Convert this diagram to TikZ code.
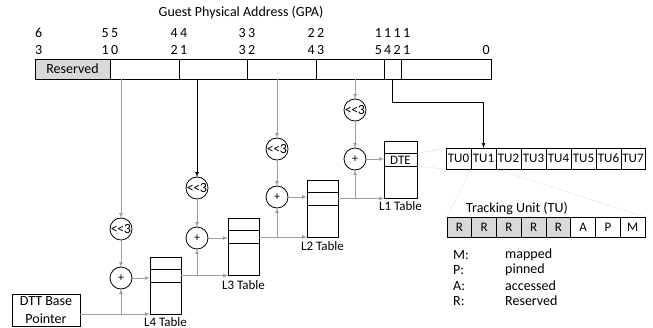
\documentclass[tikz,border=0pt]{standalone}
\usepackage{fontspec}
\setmainfont{Carlito}
\usetikzlibrary{positioning}
\definecolor{fillgray}{gray}{0.85}
\definecolor{wiregray}{gray}{0.62}
\tikzset{field/.style={draw,line width=0.8pt,minimum height=20pt,inner sep=0pt,outer sep=0pt,font=\fontsize{14}{16}\selectfont},
bitlbl/.style={inner sep=0pt,align=center,font=\fontsize{14}{17}\selectfont},
op/.style={draw,circle,line width=0.8pt,minimum size=22pt,inner sep=0pt,outer sep=0pt},
tbl/.style={draw,line width=0.8pt,minimum width=31pt,minimum height=57pt,inner sep=0pt,outer sep=0pt},
entry/.style={draw,line width=1pt,minimum width=31pt,minimum height=13pt,inner sep=0pt,outer sep=0pt,font=\fontsize{13}{13}\selectfont},
tbllbl/.style={inner sep=0pt,font=\fontsize{13}{15}\selectfont},
tucell/.style={draw,line width=0.8pt,minimum width=25pt,minimum height=21pt,inner sep=0pt,outer sep=0pt,font=\fontsize{13}{15}\selectfont},
bitcell/.style={draw,line width=0.8pt,minimum width=24.75pt,minimum height=20pt,inner sep=0pt,outer sep=0pt,font=\fontsize{13}{15}\selectfont},
legend/.style={inner sep=0pt,anchor=west,font=\fontsize{14}{16}\selectfont},
wire/.style={wiregray,line width=0.7pt}
}

\begin{document}
\begin{tikzpicture}[x=1pt,y=-1pt]
  \path[use as bounding box] (0,0) rectangle (653,327);
  \clip (0,0) rectangle (653,327);

  % GPA fields
  \node[font=\fontsize{14}{16}\selectfont] (gpa) at (241,13) {Guest Physical Address (GPA)};
  \node[field,fill=fillgray,minimum width=75pt,anchor=west] (rsv) at (35,69) {Reserved};
  \node[field,minimum width=69pt,right=0pt of rsv] (f1) {};
  \node[field,minimum width=68pt,right=0pt of f1] (f2) {};
  \node[field,minimum width=69pt,right=0pt of f2] (f3) {};
  \node[field,minimum width=68pt,right=0pt of f3] (f4) {};
  \node[field,minimum width=17pt,right=0pt of f4] (f5) {};
  \node[field,minimum width=90pt,right=0pt of f5] (f6) {};

  % Bit numbers
  \node[bitlbl,align=left,above right=4pt and 0pt of rsv.north west] (b63) {6\\3};
  \node[bitlbl,above=4pt of rsv.north east] (b51) {5\,5\\1\,0};
  \node[bitlbl,above=4pt of f1.north east] (b42) {4\,4\\2\,1};
  \node[bitlbl,above=4pt of f2.north east] (b33) {3\,3\\3\,2};
  \node[bitlbl,above=4pt of f3.north east] (b24) {2\,2\\4\,3};
  \node[bitlbl,above=4pt of f5.north] (b15) {1\,1\,1\,1\\5\,4\,2\,1};
  \node[bitlbl,above left=4pt and 1pt of f6.north east] (b0) {0};

  % Shifters and adders
  \node[op,font=\fontsize{14}{14}\selectfont] (sh4) at (121,229) {<\kern-0.5pt<\kern-0.5pt3};
  \node[op,font=\fontsize{14}{14}\selectfont] (sh3) at (197,188) {<\kern-0.5pt<\kern-0.5pt3};
  \node[op,font=\fontsize{14}{14}\selectfont] (sh2) at (277,149) {<\kern-0.5pt<\kern-0.5pt3};
  \node[op,font=\fontsize{14}{14}\selectfont] (sh1) at (355,110) {<\kern-0.5pt<\kern-0.5pt3};
  \node[op,font=\fontsize{12}{12}\selectfont] (add4) at (121,278) {+};
  \node[op,font=\fontsize{12}{12}\selectfont] (add3) at (197,238) {+};
  \node[op,font=\fontsize{12}{12}\selectfont] (add2) at (277,197) {+};
  \node[op,font=\fontsize{12}{12}\selectfont] (add1) at (355,159) {+};

  % Tables
  \node[tbl] (l4) at (165.5,285.5) {};
  \node[entry,below=12pt of l4.north] (l4e) {};
  \node[tbl] (l3) at (243.5,247) {};
  \node[entry,below=12pt of l3.north] (l3e) {};
  \node[tbl] (l2) at (322.5,208.5) {};
  \node[entry,below=12pt of l2.north] (l2e) {};
  \node[tbl,minimum width=33pt] (l1) at (400.5,170) {};
  \node[entry,minimum width=33pt,below=12pt of l1.north] (l1e) {DTE};
  \node[tbllbl,below=3pt of l4] (l4lbl) {L4 Table};
  \node[tbllbl,below=5pt of l3] (l3lbl) {L3 Table};
  \node[tbllbl,below=4pt of l2] (l2lbl) {L2 Table};
  \node[tbllbl,below=3pt of l1] (l1lbl) {L1 Table};

  \node[draw,line width=0.8pt,minimum width=68pt,minimum height=32pt,inner sep=0pt,align=center,font=\fontsize{14}{18}\selectfont] (dtt) at (46,310) {DTT Base\\Pointer};

  % Tracking units
  \node[tucell,anchor=west] (tu0) at (446,158.5) {TU0};
  \node[tucell,right=0pt of tu0] (tu1) {TU1};
  \node[tucell,right=0pt of tu1] (tu2) {TU2};
  \node[tucell,right=0pt of tu2] (tu3) {TU3};
  \node[tucell,right=0pt of tu3] (tu4) {TU4};
  \node[tucell,right=0pt of tu4] (tu5) {TU5};
  \node[tucell,right=0pt of tu5] (tu6) {TU6};
  \node[tucell,minimum width=24pt,right=0pt of tu6] (tu7) {TU7};

  \node[font=\fontsize{14}{16}\selectfont,inner sep=0pt] (tutitle) at (517,209) {Tracking Unit (TU)};
  \node[bitcell,fill=fillgray,anchor=west] (u7) at (447,227) {R};
  \node[bitcell,fill=fillgray,right=0pt of u7] (u6) {R};
  \node[bitcell,fill=fillgray,right=0pt of u6] (u5) {R};
  \node[bitcell,fill=fillgray,right=0pt of u5] (u4) {R};
  \node[bitcell,fill=fillgray,right=0pt of u4] (u3) {R};
  \node[bitcell,right=0pt of u3] (u2) {A};
  \node[bitcell,right=0pt of u2] (u1) {P};
  \node[bitcell,right=0pt of u1] (u0) {M};

  % Legend
  \node[legend] (km) at (453,255) {M:};
  \node[legend] (vm) at (505,255) {mapped};
  \node[legend] (kp) at (453,270) {P:};
  \node[legend] (vp) at (505,270) {pinned};
  \node[legend] (ka) at (453,286) {A:};
  \node[legend] (va) at (505,286) {accessed};
  \node[legend] (kr) at (453,301) {R:};
  \node[legend] (vr) at (505,301) {Reserved};

  % GPA to shifters
  \draw[wire,-latex] (f1.south -| sh4) -- (sh4);
  \draw[line width=0.7pt,-latex] (f2.south -| sh3) -- (sh3);
  \draw[wire,-latex] (f3.south -| sh2) -- (sh2);
  \draw[wire,-latex] (f4.south -| sh1) -- (sh1);

  % Shifters to adders
  \draw[wire,-latex] (sh4) -- (add4);
  \draw[wire,-latex] (sh3) -- (add3);
  \draw[wire,-latex] (sh2) -- (add2);
  \draw[wire,-latex] (sh1) -- (add1);

  % Base pointer to L4
  \draw[wire,-latex] (dtt.east |- l4.south) -- (l4.south west);
  \draw[wire,-latex] (l4.south west -| add4) -- (add4);
  \draw[wire,-latex] (add4) -- (add4 -| l4.west);

  % L4 to L3
  \draw[wire,-latex] (l4e.east) -- (l3.south west);
  \draw[wire,-latex] (l4e.east -| add3) -- (add3);
  \draw[wire,-latex] (add3) -- (add3 -| l3.west);

  % L3 to L2
  \draw[wire,-latex] (l3e.east) -- (l2.south west);
  \draw[wire,-latex] (l3e.east -| add2) -- (add2);
  \draw[wire,-latex] (add2) -- (add2 -| l2.west);

  % L2 to L1
  \draw[wire,-latex] (l2e.east) -- (l1.south west);
  \draw[wire,-latex] (l2e.east -| add1) -- (add1);
  \draw[wire,-latex] (add1) -- (add1 -| l1.west);

  % Offset to tracking unit
  \draw[line width=0.7pt,-latex] (f5.south) -- ++(0,23) -| (tu1.north);

  % Zoom lines
  \draw[wiregray,densely dotted] (l1e.north east) -- (tu0.north west);
  \draw[wiregray,densely dotted] (l1e.south east) -- (tu0.south west);
  \draw[wiregray,densely dotted] (tu1.south west) -- (u7.north west);
  \draw[wiregray,densely dotted] (tu1.south east) -- (u0.north east);

\end{tikzpicture}
\end{document}
